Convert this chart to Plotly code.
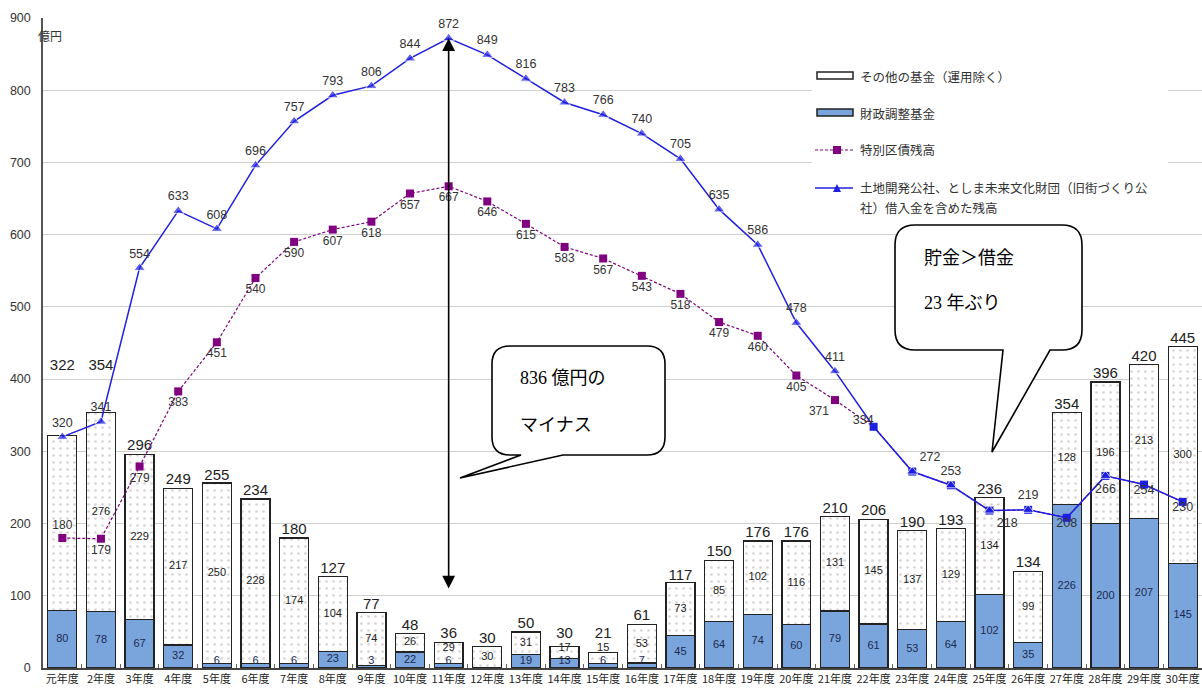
import plotly.graph_objects as go

# ---- data (億円) ----
years = ["元年度"] + [f"{i}年度" for i in range(2, 31)]

# 財政調整基金
zaisei = [80, 78, 67, 32, 6, 6, 6, 23, 3, 22, 6, 0, 19, 13, 6,
          7, 45, 64, 74, 60, 79, 61, 53, 64, 102, 35, 226, 200, 207, 145]
# その他の基金（運用除く）
other = [242, 276, 229, 217, 250, 228, 174, 104, 74, 26, 29, 30, 31, 17, 15,
         53, 73, 85, 102, 116, 131, 145, 137, 129, 134, 99, 128, 196, 213, 300]
# 基金合計
totals = [322, 354, 296, 249, 255, 234, 180, 127, 77, 48, 36, 30, 50, 30, 21,
          61, 117, 150, 176, 176, 210, 206, 190, 193, 236, 134, 354, 396, 420, 445]
# 特別区債残高
tokubetsu = [180, 179, 279, 383, 451, 540, 590, 607, 618, 657, 667, 646, 615, 583, 567,
             543, 518, 479, 460, 405, 371, 334, 272, 253, 218, 219, 208, 266, 254, 230]
# 土地開発公社、としま未来文化財団借入金を含めた残高
debt_total = [320, 341, 554, 633, 608, 696, 757, 793, 806, 844, 872, 849, 816, 783, 766,
              740, 705, 635, 586, 478, 411, 334, 272, 253, 218, 219, 208, 266, 254, 230]

n = len(years)

# ---- styling ----
NUM_FONT = "Liberation Sans, Noto Sans CJK JP, sans-serif"
JP_FONT = "Noto Sans CJK JP, Liberation Sans, sans-serif"
SERIF_FONT = "Liberation Serif, Noto Sans CJK JP, serif"
BLUE_BAR = "#7aa5dc"
LINE_BLUE = "#1f1fe0"
PURPLE = "#800080"
OUTLINE = "#222222"

# plot-area geometry in pixels (used for annotation / shape placement)
W_PAGE, H_PAGE = 1202, 688
L, T, R, B = 43, 18, 0, 20
PW, PH = W_PAGE - L - R, H_PAGE - T - B


def px(x):
    return (x - L) / PW


def py(y):
    return (T + PH - y) / PH


fig = go.Figure()

# stacked bars
fig.add_trace(go.Bar(
    x=years, y=zaisei, name="財政調整基金",
    marker=dict(color=BLUE_BAR, line=dict(color=OUTLINE, width=1.3)),
    showlegend=False, hoverinfo="x+y",
))
fig.add_trace(go.Bar(
    x=years, y=other, name="その他の基金（運用除く）",
    marker=dict(color="white", line=dict(color=OUTLINE, width=1.3),
                pattern=dict(shape=".", fgcolor="#b3a6aa", bgcolor="white",
                             size=7, solidity=0.12)),
    showlegend=False, hoverinfo="x+y",
))

# segment labels
zaisei_text = [str(v) if v > 0 else "" for v in zaisei]
zaisei_y = [max(v / 2, 9) for v in zaisei]
other_text = [str(v) for v in other]
other_text[0] = ""  # sits under the 特別区債 label
other_y = []
for z, o, zy in zip(zaisei, other, zaisei_y):
    mid = z + o / 2
    # keep clear of the label of a thin segment underneath
    other_y.append(max(mid, zy + 19) if z > 0 else mid)
fig.add_trace(go.Scatter(
    x=years, y=zaisei_y, mode="text", text=zaisei_text,
    textfont=dict(family=NUM_FONT, size=11, color="#1a2a50"),
    showlegend=False, hoverinfo="skip",
))
fig.add_trace(go.Scatter(
    x=years, y=other_y, mode="text", text=other_text,
    textfont=dict(family=NUM_FONT, size=11, color="#222"),
    showlegend=False, hoverinfo="skip",
))

# totals above bars (first two lifted clear of the line labels,
# short bars lifted clear of their segment label)
total_y = [max(t, oy + 9) for t, oy in zip(totals, other_y)]
total_y[0] = 408
total_y[1] = 408
fig.add_trace(go.Scatter(
    x=years, y=total_y, mode="text", text=[str(v) for v in totals],
    textposition="top center",
    textfont=dict(family=NUM_FONT, size=15, color="#222"),
    showlegend=False, hoverinfo="skip",
))

# 特別区債残高 (dashed purple; joins the other line from 22年度)
purple_colors = [PURPLE] * 21 + [LINE_BLUE] * (n - 21)
purple_text = [str(v) for v in tokubetsu[:21]] + [""] * (n - 21)
purple_pos = ["top center"] + ["bottom center"] * 19 + ["bottom left"] + ["bottom center"] * (n - 21)
fig.add_trace(go.Scatter(
    x=years, y=tokubetsu, mode="lines+markers+text", name="特別区債残高",
    line=dict(color=PURPLE, width=1.2, dash="3px,2px"),
    marker=dict(symbol="square", size=8, color=purple_colors),
    text=purple_text, textposition=purple_pos,
    textfont=dict(family=NUM_FONT, size=12, color="#333"),
    showlegend=False,
))

# 借入金を含めた残高 (solid blue with triangles)
tri_size = [10] * n
for i in (21, 26, 28, 29):
    tri_size[i] = 0
blue_pos = ["top center"] * n
blue_pos[21] = "top left"
blue_pos[22] = "top right"
blue_pos[24] = "bottom right"
for i in (26, 27, 28, 29):
    blue_pos[i] = "bottom center"
fig.add_trace(go.Scatter(
    x=years, y=debt_total, mode="lines+markers+text",
    name="土地開発公社、としま未来文化財団（旧街づくり公社）借入金を含めた残高",
    line=dict(color=LINE_BLUE, width=1.5),
    marker=dict(symbol="triangle-up", size=tri_size, color=LINE_BLUE),
    text=[str(v) for v in debt_total], textposition=blue_pos,
    textfont=dict(family=NUM_FONT, size=12.5, color="#333"),
    showlegend=False,
))

shapes = []
annotations = []

# ---- custom legend ----
shapes.append(dict(type="rect", xref="paper", yref="paper", layer="above",
                   x0=px(812), x1=px(1168), y0=py(216), y1=py(60),
                   fillcolor="white", line=dict(width=0)))
# その他の基金
shapes.append(dict(type="rect", xref="paper", yref="paper", layer="above",
                   x0=px(817), x1=px(853), y0=py(79), y1=py(72),
                   fillcolor="white", line=dict(color=OUTLINE, width=1.5)))
# 財政調整基金
shapes.append(dict(type="rect", xref="paper", yref="paper", layer="above",
                   x0=px(817), x1=px(853), y0=py(116), y1=py(109),
                   fillcolor=BLUE_BAR, line=dict(color=OUTLINE, width=1.5)))
# 特別区債残高
shapes.append(dict(type="line", xref="paper", yref="paper", layer="above",
                   x0=px(815), x1=px(853), y0=py(150), y1=py(150),
                   line=dict(color=PURPLE, width=1.2, dash="3px,2px")))
shapes.append(dict(type="rect", xref="paper", yref="paper", layer="above",
                   x0=px(833), x1=px(841), y0=py(154), y1=py(146),
                   fillcolor=PURPLE, line=dict(width=0)))
# 借入金を含めた残高
shapes.append(dict(type="line", xref="paper", yref="paper", layer="above",
                   x0=px(815), x1=px(853), y0=py(188), y1=py(188),
                   line=dict(color=LINE_BLUE, width=1.5)))
tri = f"M {px(833)} {py(192)} L {px(841)} {py(192)} L {px(837)} {py(184)} Z"
shapes.append(dict(type="path", xref="paper", yref="paper", layer="above",
                   path=tri, fillcolor=LINE_BLUE, line=dict(width=0)))

legend_items = [
    ("その他の基金（運用除く）", 76),
    ("財政調整基金", 113),
    ("特別区債残高", 150),
    ("土地開発公社、としま未来文化財団（旧街づくり公", 188),
    ("社）借入金を含めた残高", 208),
]
for label, y in legend_items:
    annotations.append(dict(xref="paper", yref="paper", x=px(858), y=py(y),
                            xanchor="left", yanchor="middle", showarrow=False,
                            text=label, font=dict(family=JP_FONT, size=12.5, color="#333")))

# unit label
annotations.append(dict(xref="paper", yref="paper", x=px(36), y=py(35),
                        xanchor="left", yanchor="middle", showarrow=False,
                        text="億円", font=dict(family=JP_FONT, size=12, color="#333")))


# ---- speech bubbles ----
def bubble_path(x0, y0, x1, y1, r, tb0, tb1, tip):
    pts = []

    def P(x, y):
        return f"{px(x):.5f} {py(y):.5f}"

    pts.append(f"M {P(x0 + r, y0)}")
    pts.append(f"L {P(x1 - r, y0)}")
    pts.append(f"Q {P(x1, y0)} {P(x1, y0 + r)}")
    pts.append(f"L {P(x1, y1 - r)}")
    pts.append(f"Q {P(x1, y1)} {P(x1 - r, y1)}")
    pts.append(f"L {P(tb1, y1)}")
    pts.append(f"L {P(tip[0], tip[1])}")
    pts.append(f"L {P(tb0, y1)}")
    pts.append(f"L {P(x0 + r, y1)}")
    pts.append(f"Q {P(x0, y1)} {P(x0, y1 - r)}")
    pts.append(f"L {P(x0, y0 + r)}")
    pts.append(f"Q {P(x0, y0)} {P(x0 + r, y0)}")
    pts.append("Z")
    return " ".join(pts)


shapes.append(dict(type="path", xref="paper", yref="paper", layer="above",
                   path=bubble_path(492, 346, 665, 455, 18, 521, 563, (460, 478)),
                   fillcolor="white", line=dict(color="black", width=1.6)))
shapes.append(dict(type="path", xref="paper", yref="paper", layer="above",
                   path=bubble_path(895, 225, 1082, 350, 20, 1003, 1050, (992, 452)),
                   fillcolor="white", line=dict(color="black", width=1.6)))

for text, x, y in [("836 億円の", 518, 378), ("マイナス", 518, 425),
                   ("貯金＞借金", 922, 258), ("23 年ぶり", 922, 303)]:
    annotations.append(dict(xref="paper", yref="paper", x=px(x), y=py(y),
                            xanchor="left", yanchor="middle", showarrow=False,
                            text=text, font=dict(family=SERIF_FONT, size=18, color="black")))

# double-headed arrow at the peak year
peak_i = debt_total.index(max(debt_total))
annotations.append(dict(
    x=peak_i, y=max(debt_total), ax=peak_i, ay=108,
    xref="x", yref="y", axref="x", ayref="y",
    showarrow=True, arrowhead=2, startarrowhead=2, arrowside="end+start",
    arrowsize=1.6, startarrowsize=1.6, arrowwidth=1.6, arrowcolor="black", text="",
))

fig.update_layout(
    width=W_PAGE, height=H_PAGE,
    margin=dict(l=L, r=R, t=T, b=B, autoexpand=False),
    barmode="stack", bargap=0.25,
    paper_bgcolor="white", plot_bgcolor="white",
    shapes=shapes, annotations=annotations,
    xaxis=dict(type="category", range=[-0.5, n - 0.5], autorange=False,
               showline=True, linecolor="#444", linewidth=1.5,
               ticks="inside", ticklen=4, tickcolor="#666", tickson="boundaries",
               tickangle=0, automargin=False,
               tickfont=dict(family=JP_FONT, size=11, color="#222"),
               showgrid=False, fixedrange=True),
    yaxis=dict(range=[0, 900], autorange=False, dtick=100, showline=True,
               linecolor="#555", linewidth=1.5, automargin=False,
               gridcolor="#cfcfcf", gridwidth=1, zeroline=False,
               tickfont=dict(family=NUM_FONT, size=12.5, color="#333"),
               ticklabelstandoff=8, fixedrange=True),
)

fig.write_html("out.html")
